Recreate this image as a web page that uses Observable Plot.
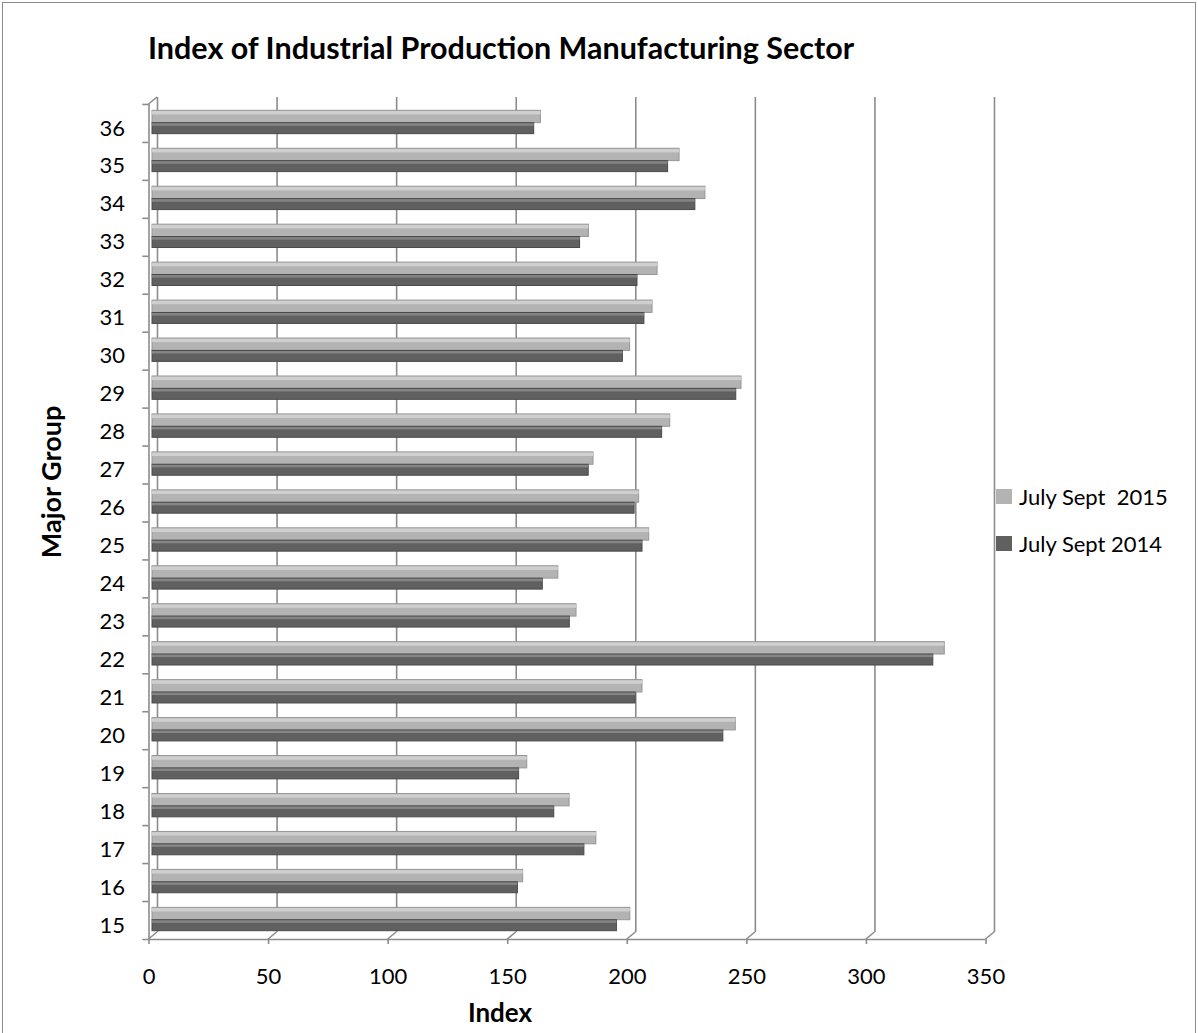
<!DOCTYPE html>
<html>
<head>
<meta charset="utf-8">
<script src="https://cdn.jsdelivr.net/npm/d3@7"></script>
<script src="https://cdn.jsdelivr.net/npm/@observablehq/plot@0.6"></script>
<style>
  html, body { margin: 0; padding: 0; background: #fff; }
  #wrap { position: relative; width: 1198px; height: 1033px; overflow: hidden; font-family: Lato, "Open Sans", sans-serif; color: #000; }
  #wrap svg { position: absolute; left: 0; top: 0; overflow: visible; }
  .border { position: absolute; left: 2px; top: 2px; width: 1192px; height: 1060px; border: 1.5px solid #8c8c8c; }
  .title { position: absolute; left: 148px; top: 30px; font-weight: 700; font-size: 30.5px; line-height: 34px; white-space: nowrap; }
  .xtitle { position: absolute; left: 500px; top: 1012px; transform: translate(-50%, -50%); font-weight: 700; font-size: 26px; white-space: nowrap; }
  .ytitle { position: absolute; left: 50px; top: 482px; transform: translate(-50%, -50%) rotate(-90deg); font-weight: 700; font-size: 27px; white-space: nowrap; }
  .leg { position: absolute; left: 996px; display: flex; align-items: center; font-size: 22px; white-space: pre; }
  .leg .sw { width: 16px; height: 15px; margin-right: 7px; }
</style>
</head>
<body>
<div id="wrap">
  <div class="border"></div>
</div>
<script>
// ---- data ----
const categories = ["15","16","17","18","19","20","21","22","23","24","25","26","27","28","29","30","31","32","33","34","35","36"];
const julySept2015 = [199.8, 155.0, 185.6, 174.4, 156.7, 243.9, 204.9, 331.3, 177.3, 169.7, 207.7, 203.5, 184.4, 216.5, 246.3, 199.7, 209.1, 211.2, 182.5, 231.2, 220.4, 162.4];
const julySept2014 = [194.2, 152.8, 180.6, 168.0, 153.3, 238.7, 202.0, 326.5, 174.5, 163.2, 204.9, 201.6, 182.4, 213.1, 244.1, 196.7, 205.7, 202.8, 178.8, 227.0, 215.6, 159.6];
const xTicks = [0, 50, 100, 150, 200, 250, 300, 350];
const seriesNames = ["July Sept  2015", "July Sept 2014"];
const seriesColors = ["#b3b3b3", "#606060"];
const titleText = "Index of Industrial Production Manufacturing Sector";
const xTitle = "Index";
const yTitle = "Major Group";

const rows = categories.map((c, i) => ({group: c, v2015: julySept2015[i], v2014: julySept2014[i]}));
const yDomain = categories.slice().reverse();
const grid = "#8c8c8c";

const plot = Plot.plot({
  width: 1198,
  height: 1033,
  marginLeft: 148.5,
  marginRight: 212.5,
  marginTop: 104,
  marginBottom: 94,
  style: {fontFamily: "Lato, 'Open Sans', sans-serif", fontSize: "22px", color: "#000", background: "transparent"},
  x: {domain: [0, 350], label: null},
  y: {domain: yDomain, padding: 0, round: false, label: null},
  marks: [
    // back-wall gridlines
    Plot.ruleX(xTicks, {stroke: grid, strokeWidth: 1.6, dx: 8.5, dy: -7}),
    // front value axis line
    Plot.ruleX([0], {stroke: grid, strokeWidth: 1.6}),
    // category boundary ticks
    Plot.ruleY(yDomain, {x1: -2.6, x2: 0, dy: -19, stroke: grid, strokeWidth: 1.6}),
    Plot.ruleY(["15"], {x1: -2.6, x2: 350, dy: 19, stroke: grid, strokeWidth: 1.6}),
    // 2015 bars
    Plot.barX(rows, {y: "group", x: "v2015", fill: seriesColors[0], stroke: "#969696", strokeWidth: 1, insetTop: 6.3, insetBottom: 19.3, dx: 3.5}),
    Plot.barX(rows, {y: "group", x: "v2015", fill: "#cfcfcf", insetTop: 7, insetBottom: 27.5, dx: 3.5}),
    // 2014 bars
    Plot.barX(rows, {y: "group", x: "v2014", fill: seriesColors[1], stroke: "#4a4a4a", strokeWidth: 1, insetTop: 18.7, insetBottom: 8.3, dx: 3.5}),
    Plot.barX(rows, {y: "group", x: "v2014", fill: "#858585", insetTop: 19.3, insetBottom: 16.2, dx: 3.5}),
    Plot.axisY({tickSize: 0, tickPadding: 24, dy: 5, fontSize: 22}),
    Plot.axisX({ticks: xTicks, tickSize: 5, tickPadding: 24, stroke: grid, strokeWidth: 1.6, fontSize: 22, tickFormat: d => String(d)})
  ]
});

const wrap = document.getElementById("wrap");
wrap.appendChild(plot);

// floor / wall depth connectors drawn from the plot's own x scale
const xs = plot.scale("x");
const svg = d3.select(plot);
const bottomY = 1033 - 94, topY = 104;
const g = svg.append("g").attr("stroke", grid).attr("stroke-width", 1.6).attr("fill", "none");
xTicks.forEach(v => {
  const px = xs.apply(v);
  g.append("line").attr("x1", px).attr("y1", bottomY).attr("x2", px + 8.5).attr("y2", bottomY - 7);
});
g.append("line").attr("x1", xs.apply(0)).attr("y1", topY).attr("x2", xs.apply(0) + 8.5).attr("y2", topY - 7);

// titles
const t = document.createElement("div"); t.className = "title"; t.textContent = titleText; wrap.appendChild(t);
const xt = document.createElement("div"); xt.className = "xtitle"; xt.textContent = xTitle; wrap.appendChild(xt);
const yt = document.createElement("div"); yt.className = "ytitle"; yt.textContent = yTitle; wrap.appendChild(yt);

// legend
const legTops = [489, 536];
seriesNames.forEach((name, i) => {
  const d = document.createElement("div");
  d.className = "leg";
  d.style.top = (legTops[i] - 6) + "px";
  d.innerHTML = `<span class="sw" style="background:${seriesColors[i]}"></span><span></span>`;
  d.lastChild.textContent = name;
  wrap.appendChild(d);
});
</script>
</body>
</html>
